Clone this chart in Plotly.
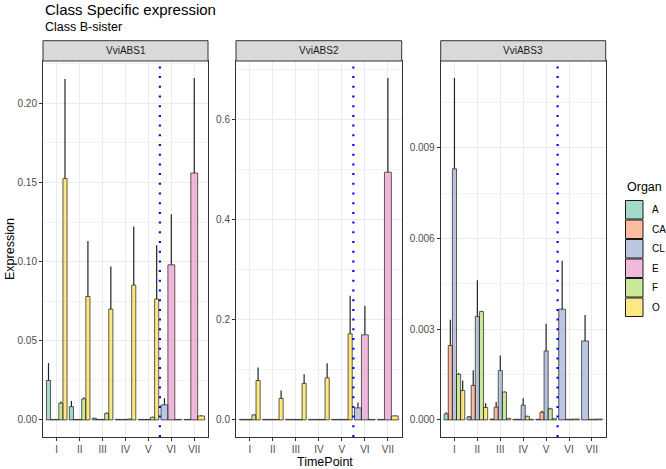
import plotly.graph_objects as go

# ---------------- data ----------------
timepoints = ["I", "II", "III", "IV", "V", "VI", "VII"]
organs = ["A", "CA", "CL", "E", "F", "O"]
genes = ["VviABS1", "VviABS2", "VviABS3"]

# mean expression (None = organ not sampled at that time point)
abs1_A  = [0.0249, 0.0084, 0.0010, 0.0003, 0.0003, None, None]
abs1_CA = [0.0003, 0.0003, 0.0003, 0.0003, 0.0003, None, None]
abs1_CL = [0.0003, 0.0003, 0.0003, 0.0003, 0.0003, 0.0095, 0.0003]
abs1_E  = [None, None, None, None, None, 0.098, 0.156]
abs1_F  = [0.0106, 0.0133, 0.0042, 0.0006, 0.0017, None, None]
abs1_O  = [0.1525, 0.078, 0.070, 0.0852, 0.0764, 0.0003, 0.0025]

abs2_A  = [0.001, 0.001, 0.001, 0.001, 0.001, None, None]
abs2_CA = [0.001, 0.001, 0.001, 0.001, 0.001, None, None]
abs2_CL = [0.001, 0.001, 0.001, 0.001, 0.001, 0.024, 0.001]
abs2_E  = [None, None, None, None, None, 0.170, 0.495]
abs2_F  = [0.010, 0.001, 0.001, 0.001, 0.001, None, None]
abs2_O  = [0.0787, 0.043, 0.073, 0.084, 0.172, 0.001, 0.008]

abs3_A  = [0.0002, 0.0001, 0.00003, 0.00002, 0.00002, None, None]
abs3_CA = [0.00246, 0.00114, 0.00042, 0.00002, 0.00025, None, None]
abs3_CL = [0.0083, 0.00342, 0.00163, 0.00049, 0.00228, 0.00366, 0.00261]
abs3_E  = [None, None, None, None, None, 0.00002, 0.00002]
abs3_F  = [0.00151, 0.00358, 0.00092, 0.00012, 0.00037, None, None]
abs3_O  = [0.00097, 0.00041, 0.00005, 0.00002, 0.00004, 0.00003, 0.00003]

# upper error (standard error)
abs1_A_se  = [0.011, 0.0036, 0.0003, 0, 0, None, None]
abs1_CA_se = [0, 0, 0, 0, 0, None, None]
abs1_CL_se = [0, 0, 0, 0, 0, 0.0042, 0]
abs1_E_se  = [None, None, None, None, None, 0.032, 0.060]
abs1_F_se  = [0.001, 0.001, 0.0005, 0, 0.0003, None, None]
abs1_O_se  = [0.063, 0.035, 0.027, 0.037, 0.034, 0, 0.0005]

abs2_A_se  = [0, 0, 0, 0, 0, None, None]
abs2_CA_se = [0, 0, 0, 0, 0, None, None]
abs2_CL_se = [0, 0, 0, 0, 0, 0.011, 0]
abs2_E_se  = [None, None, None, None, None, 0.058, 0.188]
abs2_F_se  = [0.001, 0, 0, 0, 0, None, None]
abs2_O_se  = [0.026, 0.016, 0.018, 0.029, 0.076, 0, 0.001]

abs3_A_se  = [0.00005, 0.00003, 0, 0, 0, None, None]
abs3_CA_se = [0.00085, 0.0005, 0.00017, 0, 0.00005, None, None]
abs3_CL_se = [0.0030, 0.0012, 0.0005, 0.00023, 0.0009, 0.0016, 0.00086]
abs3_E_se  = [None, None, None, None, None, 0, 0]
abs3_F_se  = [0.00004, 0.00003, 0.00002, 0.00002, 0.00003, None, None]
abs3_O_se  = [0.00033, 0.00014, 0, 0, 0, 0, 0]

y_ticks = [[0.0, 0.05, 0.10, 0.15, 0.20], [0.0, 0.2, 0.4, 0.6], [0.0, 0.003, 0.006, 0.009]]
y_ticktext = [["0.00", "0.05", "0.10", "0.15", "0.20"], ["0.0", "0.2", "0.4", "0.6"],
              ["0.000", "0.003", "0.006", "0.009"]]
y_minor = [0.025, 0.1, 0.0015]

means = {
    "VviABS1": dict(A=abs1_A, CA=abs1_CA, CL=abs1_CL, E=abs1_E, F=abs1_F, O=abs1_O),
    "VviABS2": dict(A=abs2_A, CA=abs2_CA, CL=abs2_CL, E=abs2_E, F=abs2_F, O=abs2_O),
    "VviABS3": dict(A=abs3_A, CA=abs3_CA, CL=abs3_CL, E=abs3_E, F=abs3_F, O=abs3_O),
}
ses = {
    "VviABS1": dict(A=abs1_A_se, CA=abs1_CA_se, CL=abs1_CL_se, E=abs1_E_se, F=abs1_F_se, O=abs1_O_se),
    "VviABS2": dict(A=abs2_A_se, CA=abs2_CA_se, CL=abs2_CL_se, E=abs2_E_se, F=abs2_F_se, O=abs2_O_se),
    "VviABS3": dict(A=abs3_A_se, CA=abs3_CA_se, CL=abs3_CL_se, E=abs3_E_se, F=abs3_F_se, O=abs3_O_se),
}

# ---------------- style ----------------
W, H = 666, 469
FONT = "Liberation Sans, Arial, sans-serif"
set2 = {"A": (102, 194, 165), "CA": (252, 141, 98), "CL": (141, 160, 203),
        "E": (231, 138, 195), "F": (166, 216, 84), "O": (255, 217, 47)}
fill = {k: "rgba(%d,%d,%d,0.6)" % v for k, v in set2.items()}

panel_px = [(43, 208), (236, 401.7), (440.7, 605.7)]
top_px, bot_px, strip_top_px = 61, 437, 40.7
ydom = [1 - bot_px / H, 1 - top_px / H]

fig = go.Figure()
layout = dict(
    width=W, height=H, margin=dict(l=0, r=0, t=0, b=0),
    plot_bgcolor="white", paper_bgcolor="white",
    barmode="overlay", showlegend=False,
    font=dict(family=FONT, color="#4D4D4D", size=10),
)
shapes, annotations = [], []

for gi, g in enumerate(genes):
    sfx = "" if gi == 0 else str(gi + 1)
    xa, ya = "x" + sfx, "y" + sfx
    # ggplot-style dodge: width 0.9 shared by organs present at each time point
    for o in organs:
        xs, ys, ws, es = [], [], [], []
        for ti in range(len(timepoints)):
            v = means[g][o][ti]
            if v is None:
                continue
            present = [oo for oo in organs if means[g][oo][ti] is not None]
            n = len(present)
            k = present.index(o)
            w = 0.9 / n
            xs.append(ti + 1 - 0.45 + w * (k + 0.5))
            ys.append(v)
            ws.append(w)
            es.append(ses[g][o][ti])
        if not xs:
            continue
        fig.add_trace(go.Bar(
            x=xs, y=ys, width=ws, xaxis=xa, yaxis=ya, name=o,
            marker=dict(color=fill[o], line=dict(color="#1a1a1a", width=0.7)),
            error_y=dict(type="data", symmetric=False, array=es, arrayminus=[0] * len(es),
                         width=0, thickness=1.2, color="#222222"),
        ))
    ymax = max(m + (s or 0) for o in organs for m, s in zip(means[g][o], ses[g][o]) if m is not None)
    x0, x1 = panel_px[gi]
    dom = [x0 / W, x1 / W]
    axis_common = dict(showline=True, mirror=True, linecolor="#333333", linewidth=1,
                       ticks="outside", ticklen=3, tickcolor="#333333", tickwidth=1,
                       gridcolor="#EBEBEB", gridwidth=1, zeroline=False,
                       tickfont=dict(family=FONT, size=10, color="#4D4D4D"))
    layout["xaxis" + sfx] = dict(axis_common, domain=dom, anchor=ya, range=[0.4, 7.6],
                                 tickvals=list(range(1, 8)), ticktext=timepoints)
    layout["yaxis" + sfx] = dict(axis_common, domain=ydom, anchor=xa,
                                 range=[-0.05 * ymax, 1.05 * ymax],
                                 tickvals=y_ticks[gi], ticktext=y_ticktext[gi],
                                 minor=dict(dtick=y_minor[gi], tick0=y_minor[gi], showgrid=True,
                                            gridcolor="#F2F2F2", gridwidth=0.6, ticklen=0))
    # vertical dotted reference line between V and VI
    shapes.append(dict(type="line", xref=xa, yref=ya + " domain", x0=5.5, x1=5.5, y0=0, y1=1,
                       line=dict(color="#0000FF", width=2.2, dash="2px,7.7px"), layer="above"))
    # facet strip
    shapes.append(dict(type="rect", xref="paper", yref="paper", x0=dom[0], x1=dom[1],
                       y0=ydom[1], y1=1 - strip_top_px / H, fillcolor="#D9D9D9",
                       line=dict(color="#333333", width=1), layer="above"))
    annotations.append(dict(text=g, xref="paper", yref="paper", x=(dom[0] + dom[1]) / 2,
                            y=1 - (strip_top_px + top_px) / 2 / H, showarrow=False,
                            xanchor="center", yanchor="middle",
                            font=dict(family=FONT, size=10, color="#1A1A1A")))

# titles
annotations += [
    dict(text="Class Specific expression", xref="paper", yref="paper", x=43 / W, y=1 - 9.5 / H,
         xanchor="left", yanchor="middle", showarrow=False, font=dict(family=FONT, size=15, color="black")),
    dict(text="Class B-sister", xref="paper", yref="paper", x=43 / W, y=1 - 27 / H,
         xanchor="left", yanchor="middle", showarrow=False, font=dict(family=FONT, size=12.5, color="black")),
    dict(text="TimePoint", xref="paper", yref="paper", x=325 / W, y=1 - 462 / H,
         xanchor="center", yanchor="middle", showarrow=False, font=dict(family=FONT, size=12.5, color="black")),
    dict(text="Expression", xref="paper", yref="paper", x=10 / W, y=1 - 249 / H, textangle=-90,
         xanchor="center", yanchor="middle", showarrow=False, font=dict(family=FONT, size=12.5, color="black")),
    dict(text="Organ", xref="paper", yref="paper", x=625 / W, y=1 - 187 / H,
         xanchor="left", yanchor="middle", showarrow=False, font=dict(family=FONT, size=12.5, color="black")),
]

# legend keys
key_h = 19.5
for i, o in enumerate(organs):
    yt = 200 + i * key_h
    shapes.append(dict(type="rect", xref="paper", yref="paper", x0=625.5 / W, x1=643 / W,
                       y0=1 - (yt + key_h - 0.5) / H, y1=1 - (yt + 0.5) / H,
                       fillcolor=fill[o], line=dict(color="#1a1a1a", width=1)))
    annotations.append(dict(text=o, xref="paper", yref="paper", x=650 / W, y=1 - (yt + key_h / 2) / H,
                            xanchor="left", yanchor="middle", showarrow=False,
                            font=dict(family=FONT, size=10, color="black")))

layout["shapes"] = shapes
layout["annotations"] = annotations
fig.update_layout(**layout)
fig.write_html(
    "out.html",
    config={"displayModeBar": False},
    post_script="document.body.style.margin='0';document.body.style.overflow='hidden';",
)
